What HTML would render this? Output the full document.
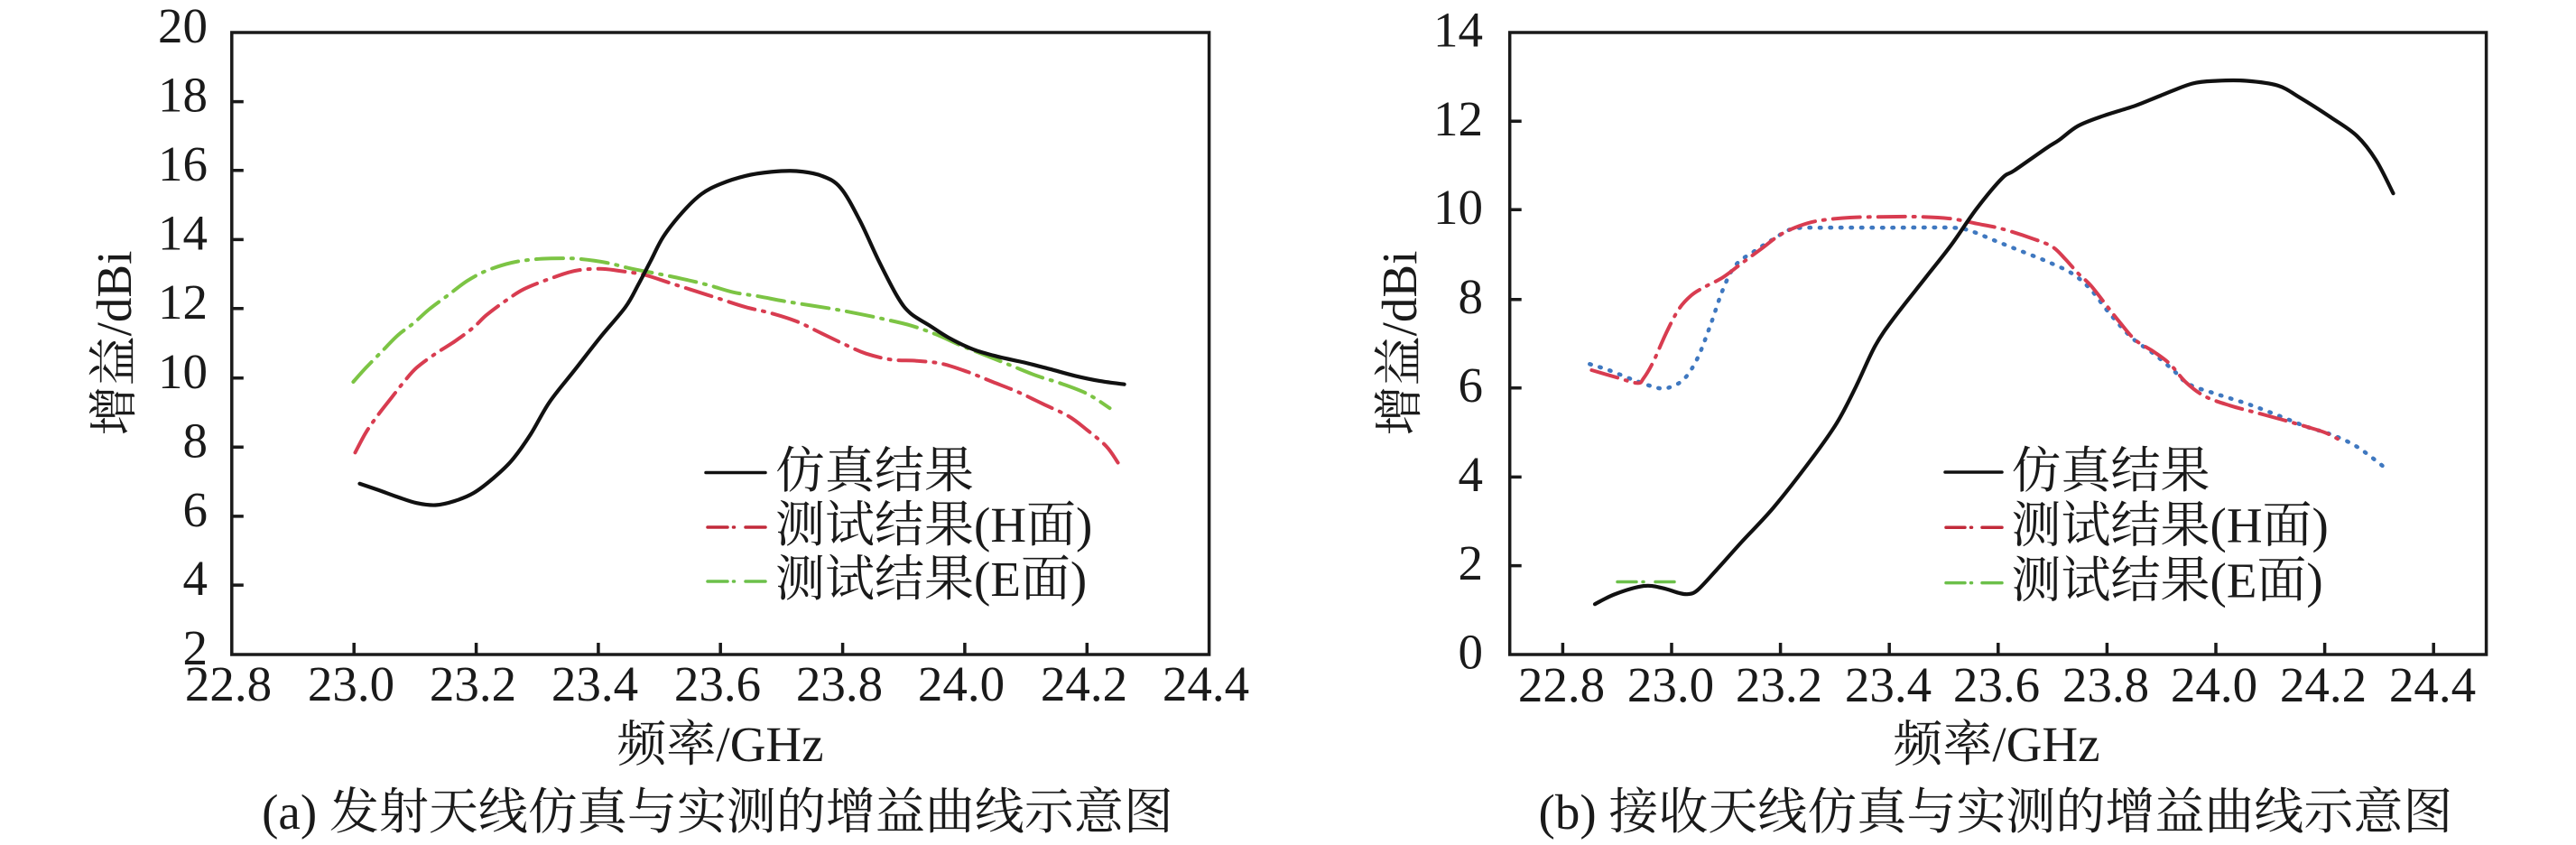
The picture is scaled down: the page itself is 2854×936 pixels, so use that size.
<!DOCTYPE html>
<html><head><meta charset="utf-8"><style>
html,body{margin:0;padding:0;background:#fff;}
svg{display:block;}
text{font-family:"Liberation Serif","Noto Serif CJK SC",serif;fill:#1a1a1a;}
</style></head><body>
<svg width="2854" height="936" viewBox="0 0 2854 936" xmlns="http://www.w3.org/2000/svg">
<rect width="2854" height="936" fill="#fff"/>

<!-- ================= LEFT CHART ================= -->
<g stroke="#1a1a1a" stroke-width="3.5" fill="none">
<rect x="256.8" y="36" width="1082.8" height="689"/>
<path d="M256.8 112.6h13M256.8 188.8h13M256.8 265.4h13M256.8 341.8h13M256.8 418.8h13M256.8 495.3h13M256.8 571.9h13M256.8 648.1h13"/>
<path d="M392.2 725v-13M527.6 725v-13M662.9 725v-13M798.2 725v-13M933.6 725v-13M1068.9 725v-13M1204.3 725v-13"/>
</g>
<g font-size="55" text-anchor="end">
<text x="230" y="47">20</text>
<text x="230" y="123.6">18</text>
<text x="230" y="199.8">16</text>
<text x="230" y="276.4">14</text>
<text x="230" y="352.8">12</text>
<text x="230" y="429.8">10</text>
<text x="230" y="506.3">8</text>
<text x="230" y="582.9">6</text>
<text x="230" y="659.1">4</text>
<text x="230" y="736">2</text>
</g>
<g font-size="55" text-anchor="middle">
<text x="253" y="776">22.8</text>
<text x="389" y="776">23.0</text>
<text x="524" y="776">23.2</text>
<text x="659" y="776">23.4</text>
<text x="795" y="776">23.6</text>
<text x="930" y="776">23.8</text>
<text x="1065" y="776">24.0</text>
<text x="1201" y="776">24.2</text>
<text x="1336" y="776">24.4</text>
<text x="798" y="843">频率/GHz</text>
<text x="795" y="918">(a) 发射天线仿真与实测的增益曲线示意图</text>
</g>
<text font-size="55" text-anchor="middle" transform="translate(145,380) rotate(-90)">增益/dBi</text>

<!-- curves left -->
<path class="sm" fill="none" stroke="#7cc444" stroke-width="4" stroke-linecap="round" stroke-linejoin="round" stroke-dasharray="30 9 2 9"
d="M391.4 423 L405.5 407.3 L423 389.4 L440.5 371.6 L458.1 358.1 L475.6 342.5 L496.6 326.8 L517.7 311.1 L538.7 300 L566.8 291 L594.8 287 L622.9 286.1 L643.9 287 L672 291 L700 297.7 L728.1 303.1 L756.1 308.9 L784.2 315.6 L812.2 323.7 L840.2 328.2 L868.3 333.5 L896.3 338 L924.4 342.5 L952.5 347.8 L980.5 353.7 L1008.6 360.4 L1036.6 370.2 L1064.6 382.7 L1092.7 393.9 L1120.7 405.1 L1148.8 416.3 L1176.8 425.2 L1204.9 436.4 L1229.5 452.1"/>
<path class="sm" fill="none" stroke="#d83c50" stroke-width="4" stroke-linecap="round" stroke-linejoin="round" stroke-dasharray="30 9 2 9"
d="M393.5 501.3 L405.5 478.9 L419.5 458.8 L433.5 440.9 L447.5 423 L461.6 407.3 L482.6 391.7 L503.6 378.3 L524.7 362.6 L538.7 349.2 L559.7 333.5 L580.8 320.1 L608.8 308.9 L636.9 300 L664.9 297.7 L685.9 300 L714 304.4 L742.1 313.4 L770.1 322.3 L798.2 331.3 L826.2 340.2 L854.3 346.9 L882.3 355.9 L910.4 369.3 L938.4 382.7 L959.5 391.7 L987.5 398.4 L1015.6 399.7 L1043.6 402.9 L1071.7 411.8 L1099.7 423 L1127.8 434.2 L1155.8 447.6 L1183.9 461 L1204.9 476.7 L1225.9 494.6 L1238.6 512.5"/>
<path class="sm" fill="none" stroke="#111" stroke-width="4.2" stroke-linecap="round" stroke-linejoin="round"
d="M398.5 535.7 L419.5 542.9 L440.5 550.5 L461.6 557.2 L482.6 559.5 L503.6 555 L524.7 546.1 L545.7 530.4 L566.8 510.3 L587.8 481.2 L608.8 445.4 L636.9 409.6 L664.9 373.8 L692.9 340.2 L707 315.6 L721 288.8 L735.1 261.9 L756.1 235.1 L777.1 215 L798.2 203.8 L826.2 194.8 L854.3 190.4 L882.3 189.5 L910.4 194.8 L931.4 208.2 L952.5 244 L973.5 288.8 L994.5 329 L1008.6 346.9 L1029.6 360.4 L1050.6 373.8 L1078.7 387.2 L1106.7 395.3 L1134.8 401.5 L1162.8 408.7 L1190.9 416.3 L1218.9 422.1 L1245.6 425.7"/>

<!-- legend left -->
<g stroke-width="3.5" stroke-linecap="round">
<path d="M782 523.5H848" stroke="#111"/>
<path d="M784 584H806M812.5 584h1M826 584H848" stroke="#c22a3a"/>
<path d="M784 644H806M812.5 644h1M826 644H848" stroke="#6cc04a"/>
</g>
<g font-size="55">
<text x="859" y="540">仿真结果</text>
<text x="859" y="600">测试结果(H面)</text>
<text x="859" y="660">测试结果(E面)</text>
</g>

<!-- ================= RIGHT CHART ================= -->
<g stroke="#1a1a1a" stroke-width="3.5" fill="none">
<rect x="1672.7" y="36" width="1081.9" height="689"/>
<path d="M1672.7 134.3h13M1672.7 232.3h13M1672.7 331.7h13M1672.7 429.7h13M1672.7 528.4h13M1672.7 626.6h13"/>
<path d="M1731.4 725v-13M1852 725v-13M1972.6 725v-13M2093.2 725v-13M2213.8 725v-13M2334.4 725v-13M2455 725v-13M2575.6 725v-13M2696.2 725v-13"/>
</g>
<g font-size="55" text-anchor="end">
<text x="1643" y="51.5">14</text>
<text x="1643" y="149.8">12</text>
<text x="1643" y="247.8">10</text>
<text x="1643" y="347.2">8</text>
<text x="1643" y="445.2">6</text>
<text x="1643" y="543.9">4</text>
<text x="1643" y="642.1">2</text>
<text x="1643" y="740.5">0</text>
</g>
<g font-size="55" text-anchor="middle">
<text x="1730" y="777">22.8</text>
<text x="1851" y="777">23.0</text>
<text x="1971" y="777">23.2</text>
<text x="2092" y="777">23.4</text>
<text x="2212" y="777">23.6</text>
<text x="2333" y="777">23.8</text>
<text x="2453" y="777">24.0</text>
<text x="2574" y="777">24.2</text>
<text x="2695" y="777">24.4</text>
<text x="2212" y="843">频率/GHz</text>
<text x="2211" y="918">(b) 接收天线仿真与实测的增益曲线示意图</text>
</g>
<text font-size="55" text-anchor="middle" transform="translate(1569,380) rotate(-90)">增益/dBi</text>

<!-- curves right -->
<path class="sm" fill="none" stroke="#3f78c0" stroke-width="4.5" stroke-linecap="round" stroke-dasharray="1.5 10"
d="M1761.3 403.3 L1782.4 410 L1810.5 421.1 L1838.6 430.1 L1852.7 427.9 L1866.7 418.9 L1880.8 396.6 L1894.8 360.8 L1908.9 320.6 L1922.9 293.7 L1944 278.1 L1965.1 264.7 L1986.1 253.5 L2021.3 252.2 L2091.5 252.2 L2161.8 252.2 L2182.9 255.7 L2211 266.9 L2239.1 278.1 L2267.2 289.3 L2295.3 302.7 L2316.3 320.6 L2337.4 347.4 L2362 374.2 L2386.6 392.1 L2407.7 410 L2425.2 425.6 L2456.8 436.8 L2491.9 448 L2527.1 461.4 L2555.2 472.6 L2583.3 481.5 L2611.4 494.9 L2643 518.6"/>
<path class="sm" fill="none" stroke="#d83c50" stroke-width="4" stroke-linecap="round" stroke-linejoin="round" stroke-dasharray="30 9 2 9"
d="M1763.4 410 L1789.4 417.6 L1814 424.3 L1821 418.9 L1831.6 401 L1845.6 369.7 L1859.7 342.9 L1873.7 327.3 L1887.8 318.3 L1908.9 307.2 L1929.9 291.5 L1951 275.9 L1972.1 260.2 L1993.2 250.4 L2014.2 244.6 L2049.4 241 L2091.5 240.1 L2126.7 240.1 L2161.8 242.3 L2189.9 247.7 L2218 253.5 L2253.1 264.7 L2274.2 273.6 L2288.2 287 L2302.3 302.7 L2316.3 316.1 L2333.9 338.4 L2348 356.3 L2365.5 376.4 L2386.6 389.9 L2404.2 403.3 L2421.7 423.4 L2442.8 439 L2470.9 449.3 L2499 456.9 L2527.1 464.5 L2555.2 472.6 L2576.3 479.3 L2593.8 488.2"/>
<path class="sm" fill="none" stroke="#111" stroke-width="4.2" stroke-linecap="round" stroke-linejoin="round"
d="M1767 669.2 L1789.4 658.1 L1821 649.1 L1842.1 651.4 L1859.7 656.7 L1870.2 658.1 L1880.8 653.6 L1901.8 631.3 L1929.9 600 L1965.1 562 L2007.2 508.3 L2035.3 468.1 L2056.4 427.9 L2077.5 383.2 L2098.6 351.9 L2133.7 307.2 L2161.8 271.4 L2189.9 231.2 L2218 197.6 L2232 188.7 L2267.2 164.1 L2281.2 155.2 L2302.3 139.5 L2330.4 128.3 L2365.5 117.2 L2393.6 106 L2428.7 92.6 L2456.8 89.5 L2488.5 89.5 L2523.6 94.8 L2548.2 108.2 L2583.3 130.6 L2611.4 150.7 L2632.5 177.5 L2651.5 214.2"/>
<g stroke="#6cc04a" stroke-width="3.5" stroke-linecap="round">
<path d="M1792 644.5H1813M1820 644.5h1M1834 644.5H1855"/>
</g>

<!-- legend right -->
<g stroke-width="3.5" stroke-linecap="round">
<path d="M2155 523H2218" stroke="#111"/>
<path d="M2156 584.3H2177M2183.5 584.3h1M2196 584.3H2218" stroke="#c22a3a"/>
<path d="M2156 645.6H2177M2183.5 645.6h1M2196 645.6H2218" stroke="#6cc04a"/>
</g>
<g font-size="55">
<text x="2228.5" y="540">仿真结果</text>
<text x="2228.5" y="600.5">测试结果(H面)</text>
<text x="2228.5" y="661.5">测试结果(E面)</text>
</g>
</svg>
<script>
(function(){
  var paths=document.querySelectorAll('path.sm');
  for(var k=0;k<paths.length;k++){
    var p=paths[k];
    var nums=p.getAttribute('d').match(/-?\d+(\.\d+)?/g);
    if(!nums) continue;
    var pts=[];
    for(var i=0;i+1<nums.length;i+=2){pts.push([parseFloat(nums[i]),parseFloat(nums[i+1])]);}
    if(pts.length<3) continue;
    var d='M'+pts[0][0]+' '+pts[0][1];
    for(var i=0;i<pts.length-1;i++){
      var p0=pts[i>0?i-1:i],p1=pts[i],p2=pts[i+1],p3=pts[i+2<pts.length?i+2:i+1];
      var c1x=p1[0]+(p2[0]-p0[0])/6,c1y=p1[1]+(p2[1]-p0[1])/6;
      var c2x=p2[0]-(p3[0]-p1[0])/6,c2y=p2[1]-(p3[1]-p1[1])/6;
      d+=' C'+c1x.toFixed(2)+' '+c1y.toFixed(2)+' '+c2x.toFixed(2)+' '+c2y.toFixed(2)+' '+p2[0]+' '+p2[1];
    }
    p.setAttribute('d',d);
  }
})();
</script>
</body></html>
